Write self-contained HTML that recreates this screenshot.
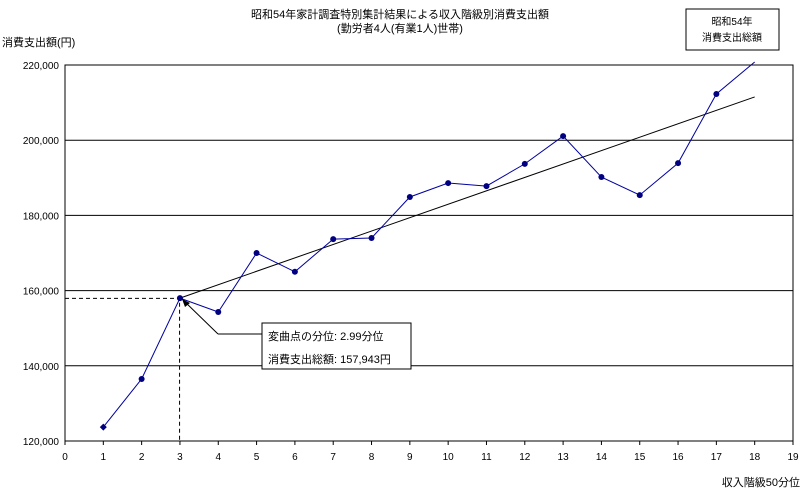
<!DOCTYPE html>
<html><head><meta charset="utf-8"><style>
body{margin:0;background:#fff;}
svg text{font-family:"Liberation Sans","Noto Sans CJK JP",sans-serif;fill:#000;}
</style></head><body>
<svg id="chart" width="803" height="494" xmlns="http://www.w3.org/2000/svg">
<text x="400" y="18" font-size="11" text-anchor="middle">昭和54年家計調査特別集計結果による収入階級別消費支出額</text>
<text x="400" y="32" font-size="11" text-anchor="middle">(勤労者4人(有業1人)世帯)</text>
<g>
<rect x="686" y="9" width="93" height="41" fill="#fff" stroke="#000"/>
<text x="732" y="25" font-size="10" text-anchor="middle">昭和54年</text>
<text x="732" y="41" font-size="10" text-anchor="middle">消費支出総額</text>
</g>
<text x="2" y="46" font-size="11">消費支出額(円)</text>
<text x="800" y="486" font-size="11" text-anchor="end">収入階級50分位</text>
<g id="grid"></g><g id="axes"></g><g id="marks"></g>
<g>
<line x1="183" y1="300" x2="218" y2="334" stroke="#000" stroke-width="1"/>
<polygon points="182,299 190,303 185,307" fill="#000"/>
<line x1="218" y1="334" x2="262" y2="334" stroke="#000"/>
<rect x="262" y="323" width="149" height="46" fill="#fff" stroke="#000"/>
<text x="268" y="340" font-size="11">変曲点の分位: 2.99分位</text>
<text x="268" y="363" font-size="11">消費支出総額: 157,943円</text>
</g>
</svg>
<script>
const categories=[1,2,3,4,5,6,7,8,9,10,11,12,13,14,15,16,17,18];
const spending=[123700,136500,158000,154300,170000,165000,173700,174000,184900,188600,187800,193700,201100,190200,185400,193900,212300,220800];
const trendStart=[3,158000];
const trendEnd=[18,211500];
const yTicks=[120000,140000,160000,180000,200000,220000];
const yTickLabels=["120,000","140,000","160,000","180,000","200,000","220,000"];
const xTicks=[0,1,2,3,4,5,6,7,8,9,10,11,12,13,14,15,16,17,18,19];
const knee=[2.99,157943];
const X0=65,X1=793,Y0=441,Y1=65;
const xs=v=>X0+(v-0)/(19-0)*(X1-X0);
const ys=v=>Y0-(v-120000)/(100000)*(Y0-Y1);
const NS="http://www.w3.org/2000/svg";
function mk(p,t,a){const e=document.createElementNS(NS,t);for(const k in a)e.setAttribute(k,a[k]);document.getElementById(p).appendChild(e);return e;}
yTicks.forEach((v,i)=>{
 const l=mk('grid','line',{x1:X0,x2:X1,y1:ys(v),y2:ys(v),stroke:'#000','stroke-width':1});
 
 
 const t=mk('axes','text',{x:X0-6,y:ys(v)+4,'font-size':10,'text-anchor':'end'});
 t.textContent=yTickLabels[i];
 
 
});
const fr=mk('axes','rect',{x:X0,y:Y1,width:X1-X0,height:Y0-Y1,fill:'none',stroke:'#000'});


xTicks.forEach(v=>{
 mk('axes','line',{x1:xs(v),x2:xs(v),y1:Y0,y2:Y0+4,stroke:'#000'});
 const t=mk('axes','text',{x:xs(v),y:Y0+19,'font-size':10,'text-anchor':'middle'});
 t.textContent=v;
 
 
});
const kx=mk('marks','polyline',{points:`${X0},${ys(knee[1])} ${xs(knee[0])},${ys(knee[1])} ${xs(knee[0])},${Y0}`,fill:'none',stroke:'#000','stroke-dasharray':'4,3'});


const tr=mk('marks','line',{x1:xs(trendStart[0]),y1:ys(trendStart[1]),x2:xs(trendEnd[0]),y2:ys(trendEnd[1]),stroke:'#000'});


const pts=categories.map((c,i)=>[xs(c),Math.max(ys(spending[i]),Y1-4)]);
const pl=mk('marks','polyline',{points:pts.map(p=>p.join(',')).join(' '),fill:'none',stroke:'#0000a0'});


pts.forEach((p,i)=>{
 if(spending[i]>220000)return;
 let m;
 if(i===0)m=mk('marks','polygon',{points:`${p[0]},${p[1]-3.5} ${p[0]+3.5},${p[1]} ${p[0]},${p[1]+3.5} ${p[0]-3.5},${p[1]}`,fill:'#000080'});
 else m=mk('marks','circle',{cx:p[0],cy:p[1],r:3,fill:'#000080'});
 
 
});
</script>
</body></html>
